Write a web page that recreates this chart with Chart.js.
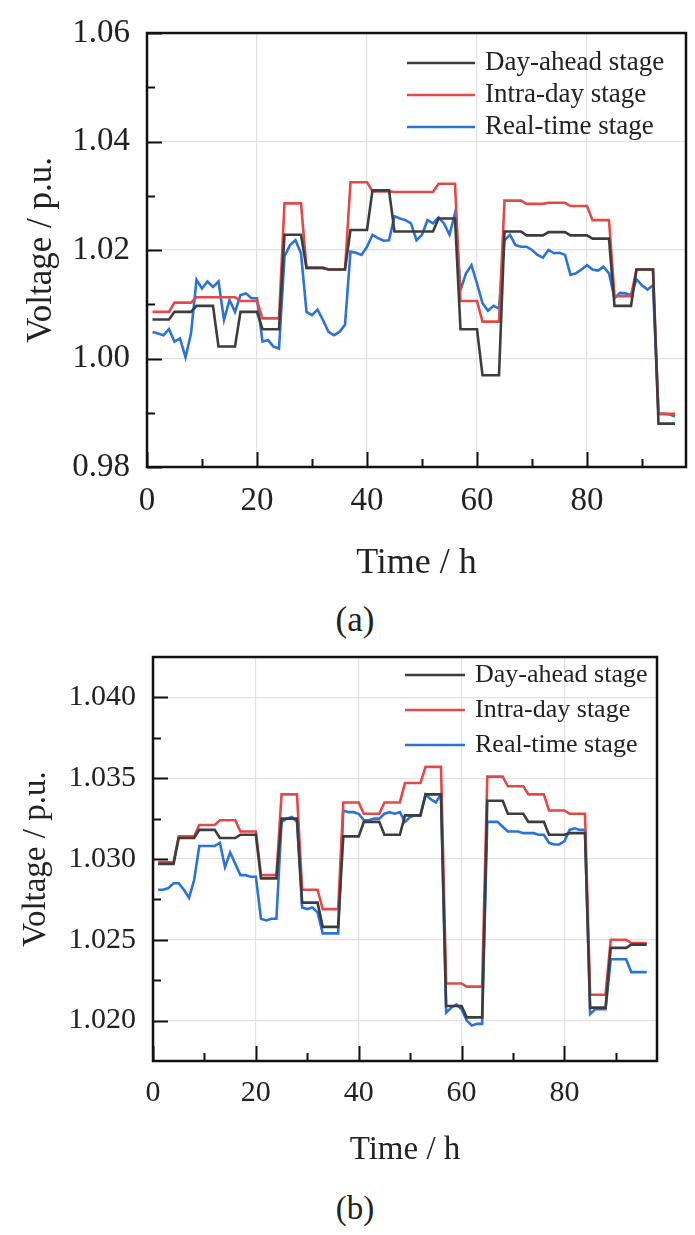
<!DOCTYPE html>
<html>
<head>
<meta charset="utf-8">
<title>Voltage profiles</title>
<script src="https://cdn.jsdelivr.net/npm/chart.js@4.4.1/dist/chart.umd.min.js"></script>
<style>
  body { margin: 0; background: #fff; }
  .wrap { position: relative; width: 695px; height: 1235px; font-family: "Liberation Serif", "Times New Roman", serif; }
  .wrap canvas { position: absolute; left: 0; }
  .caption { position: absolute; left: 0; width: 710px; text-align: center; color: #222; line-height: 40px; }
</style>
</head>
<body>
<div class="wrap">
  <canvas id="chartA" width="695" height="600" style="top:0"></canvas>
  <div class="caption" style="top:600px;font-size:35px">(a)</div>
  <canvas id="chartB" width="695" height="545" style="top:640px"></canvas>
  <div class="caption" style="top:1188px;font-size:33px">(b)</div>
</div>
<script>
// time steps (15 min resolution shown on an hour axis)
const hours = Array.from({ length: 96 }, (_, i) => i + 1);

const seriesNames = ["Day-ahead stage", "Intra-day stage", "Real-time stage"];
const seriesColors = ["#3d3d3d", "#e24a4a", "#2b73d6"];

const xTicks = [0, 20, 40, 60, 80];
const xMinorTicks = [10, 30, 50, 70, 90];

// (a)
const aYTicks = [0.98, 1.00, 1.02, 1.04, 1.06];
const aYMinorTicks = [0.99, 1.01, 1.03, 1.05];

const aDayAhead = [
  1.0072, 1.0072, 1.0072, 1.0072, 1.0086, 1.0086, 1.0086, 1.0086,
  1.0097, 1.0097, 1.0097, 1.0097, 1.0022, 1.0022, 1.0022, 1.0022,
  1.0086, 1.0086, 1.0086, 1.0086, 1.0054, 1.0054, 1.0054, 1.0054,
  1.0228, 1.0228, 1.0228, 1.0228, 1.0167, 1.0167, 1.0167, 1.0167,
  1.0164, 1.0164, 1.0164, 1.0164, 1.0237, 1.0237, 1.0237, 1.0237,
  1.0310, 1.0310, 1.0310, 1.0310, 1.0234, 1.0234, 1.0234, 1.0234,
  1.0234, 1.0234, 1.0234, 1.0234, 1.0258, 1.0258, 1.0258, 1.0258,
  1.0054, 1.0054, 1.0054, 1.0054, 0.9969, 0.9969, 0.9969, 0.9969,
  1.0234, 1.0234, 1.0234, 1.0234, 1.0227, 1.0227, 1.0227, 1.0227,
  1.0233, 1.0233, 1.0233, 1.0233, 1.0227, 1.0227, 1.0227, 1.0227,
  1.0221, 1.0221, 1.0221, 1.0221, 1.0097, 1.0097, 1.0097, 1.0097,
  1.0164, 1.0164, 1.0164, 1.0164, 0.9880, 0.9880, 0.9880, 0.9880
];
const aIntraDay = [
  1.0086, 1.0086, 1.0086, 1.0086, 1.0103, 1.0103, 1.0103, 1.0103,
  1.0113, 1.0113, 1.0113, 1.0113, 1.0113, 1.0113, 1.0113, 1.0113,
  1.0106, 1.0106, 1.0106, 1.0106, 1.0074, 1.0074, 1.0074, 1.0074,
  1.0286, 1.0286, 1.0286, 1.0286, 1.0167, 1.0167, 1.0167, 1.0167,
  1.0164, 1.0164, 1.0164, 1.0164, 1.0325, 1.0325, 1.0325, 1.0325,
  1.0308, 1.0308, 1.0308, 1.0308, 1.0307, 1.0307, 1.0307, 1.0307,
  1.0307, 1.0307, 1.0307, 1.0307, 1.0322, 1.0322, 1.0322, 1.0322,
  1.0106, 1.0106, 1.0106, 1.0106, 1.0068, 1.0068, 1.0068, 1.0068,
  1.0291, 1.0291, 1.0291, 1.0291, 1.0285, 1.0285, 1.0285, 1.0285,
  1.0287, 1.0287, 1.0287, 1.0287, 1.0281, 1.0281, 1.0281, 1.0281,
  1.0255, 1.0255, 1.0255, 1.0255, 1.0115, 1.0115, 1.0115, 1.0115,
  1.0164, 1.0164, 1.0164, 1.0164, 0.9898, 0.9898, 0.9898, 0.9898
];
const aRealTime = [
  1.0049, 1.0046, 1.0043, 1.0054, 1.0031, 1.0037, 1.0002, 1.0046,
  1.0145, 1.0129, 1.0142, 1.0132, 1.0142, 1.0071, 1.0108, 1.0086,
  1.0117, 1.0120, 1.0111, 1.0111, 1.0031, 1.0034, 1.0022, 1.0018,
  1.0188, 1.0209, 1.0218, 1.0194, 1.0086, 1.0080, 1.0090, 1.0071,
  1.0049, 1.0043, 1.0049, 1.0062, 1.0197, 1.0195, 1.0191, 1.0206,
  1.0228, 1.0222, 1.0217, 1.0218, 1.0262, 1.0258, 1.0255, 1.0249,
  1.0218, 1.0228, 1.0255, 1.0249, 1.0260, 1.0249, 1.0228, 1.0268,
  1.0126, 1.0157, 1.0172, 1.0138, 1.0102, 1.0088, 1.0097, 1.0092,
  1.0218, 1.0228, 1.0209, 1.0206, 1.0206, 1.0200, 1.0191, 1.0186,
  1.0200, 1.0194, 1.0195, 1.0191, 1.0154, 1.0157, 1.0164, 1.0172,
  1.0164, 1.0162, 1.0169, 1.0157, 1.0111, 1.0121, 1.0120, 1.0117,
  1.0146, 1.0135, 1.0127, 1.0135, 0.9898, 0.9898, 0.9897, 0.9893
];

// (b)
const bYTicks = [1.020, 1.025, 1.030, 1.035, 1.040];
const bYMinorTicks = [1.0225, 1.0275, 1.0325, 1.0375];

const bDayAhead = [
  1.0297, 1.0297, 1.0297, 1.0297, 1.0313, 1.0313, 1.0313, 1.0313,
  1.0318, 1.0318, 1.0318, 1.0318, 1.0313, 1.0313, 1.0313, 1.0313,
  1.0315, 1.0315, 1.0315, 1.0315, 1.0288, 1.0288, 1.0288, 1.0288,
  1.0325, 1.0325, 1.0325, 1.0325, 1.0273, 1.0273, 1.0273, 1.0273,
  1.0258, 1.0258, 1.0258, 1.0258, 1.0314, 1.0314, 1.0314, 1.0314,
  1.0323, 1.0323, 1.0323, 1.0323, 1.0315, 1.0315, 1.0315, 1.0315,
  1.0327, 1.0327, 1.0327, 1.0327, 1.0340, 1.0340, 1.0340, 1.0340,
  1.0209, 1.0209, 1.0209, 1.0209, 1.0202, 1.0202, 1.0202, 1.0202,
  1.0336, 1.0336, 1.0336, 1.0336, 1.0328, 1.0328, 1.0328, 1.0328,
  1.0323, 1.0323, 1.0323, 1.0323, 1.0315, 1.0315, 1.0315, 1.0315,
  1.0316, 1.0316, 1.0316, 1.0316, 1.0208, 1.0208, 1.0208, 1.0208,
  1.0245, 1.0245, 1.0245, 1.0245, 1.0247, 1.0247, 1.0247, 1.0247
];
const bIntraDay = [
  1.0298, 1.0298, 1.0298, 1.0298, 1.0314, 1.0314, 1.0314, 1.0314,
  1.0321, 1.0321, 1.0321, 1.0321, 1.0324, 1.0324, 1.0324, 1.0324,
  1.0317, 1.0317, 1.0317, 1.0317, 1.0290, 1.0290, 1.0290, 1.0290,
  1.0340, 1.0340, 1.0340, 1.0340, 1.0281, 1.0281, 1.0281, 1.0281,
  1.0269, 1.0269, 1.0269, 1.0269, 1.0335, 1.0335, 1.0335, 1.0335,
  1.0328, 1.0328, 1.0328, 1.0328, 1.0335, 1.0335, 1.0335, 1.0335,
  1.0347, 1.0347, 1.0347, 1.0347, 1.0357, 1.0357, 1.0357, 1.0357,
  1.0223, 1.0223, 1.0223, 1.0223, 1.0221, 1.0221, 1.0221, 1.0221,
  1.0351, 1.0351, 1.0351, 1.0351, 1.0345, 1.0345, 1.0345, 1.0345,
  1.0340, 1.0340, 1.0340, 1.0340, 1.0330, 1.0330, 1.0330, 1.0330,
  1.0328, 1.0328, 1.0328, 1.0328, 1.0216, 1.0216, 1.0216, 1.0216,
  1.0250, 1.0250, 1.0250, 1.0250, 1.0248, 1.0248, 1.0248, 1.0248
];
const bRealTime = [
  1.0281, 1.0281, 1.0282, 1.0285, 1.0285, 1.0281, 1.0276, 1.0287,
  1.0308, 1.0308, 1.0308, 1.0308, 1.0310, 1.0295, 1.0304, 1.0297,
  1.0290, 1.0290, 1.0289, 1.0289, 1.0263, 1.0262, 1.0263, 1.0263,
  1.0323, 1.0325, 1.0326, 1.0323, 1.0270, 1.0269, 1.0270, 1.0267,
  1.0254, 1.0254, 1.0254, 1.0254, 1.0330, 1.0329, 1.0329, 1.0328,
  1.0324, 1.0324, 1.0325, 1.0325, 1.0328, 1.0329, 1.0328, 1.0329,
  1.0323, 1.0326, 1.0327, 1.0327, 1.0340, 1.0337, 1.0335, 1.0340,
  1.0205, 1.0208, 1.0210, 1.0207, 1.0200, 1.0197, 1.0198, 1.0198,
  1.0323, 1.0323, 1.0323, 1.0320, 1.0317, 1.0317, 1.0317, 1.0316,
  1.0316, 1.0316, 1.0315, 1.0315, 1.0310, 1.0309, 1.0309, 1.0311,
  1.0318, 1.0319, 1.0318, 1.0318, 1.0204, 1.0207, 1.0207, 1.0207,
  1.0238, 1.0238, 1.0238, 1.0238, 1.0230, 1.0230, 1.0230, 1.0230
];

const fontFamily = '"Liberation Serif", "Times New Roman", serif';

// frame, inward tick marks and the legend inside the plot
const framePlugin = {
  id: "frame",
  afterDraw(chart, args, opts) {
    const ctx = chart.ctx;
    const area = chart.chartArea;
    const xs = chart.scales.x;
    const ys = chart.scales.y;

    ctx.save();
    ctx.strokeStyle = "#111";
    ctx.lineWidth = 2;
    ctx.beginPath();
    xTicks.forEach(function (v) {
      let px = Math.round(xs.getPixelForValue(v)) + 0.5;
      ctx.moveTo(px, area.bottom);
      ctx.lineTo(px, area.bottom - 15);
    });
    xMinorTicks.forEach(function (v) {
      let px = Math.round(xs.getPixelForValue(v)) + 0.5;
      ctx.moveTo(px, area.bottom);
      ctx.lineTo(px, area.bottom - 8);
    });
    opts.yMajor.forEach(function (v) {
      let py = Math.round(ys.getPixelForValue(v)) + 0.5;
      ctx.moveTo(area.left, py);
      ctx.lineTo(area.left + 15, py);
    });
    opts.yMinor.forEach(function (v) {
      let py = Math.round(ys.getPixelForValue(v)) + 0.5;
      ctx.moveTo(area.left, py);
      ctx.lineTo(area.left + 8, py);
    });
    ctx.stroke();

    ctx.lineWidth = 2.5;
    ctx.strokeRect(area.left, area.top, area.right - area.left, area.bottom - area.top);

    // legend
    ctx.font = opts.legendSize + "px " + fontFamily;
    ctx.textBaseline = "middle";
    ctx.textAlign = "left";
    chart.data.datasets.forEach(function (ds, i) {
      let y = area.top + opts.legendRows[i];
      ctx.strokeStyle = ds.borderColor;
      ctx.lineWidth = 2.5;
      ctx.beginPath();
      ctx.moveTo(area.right - opts.lineStart, y);
      ctx.lineTo(area.right - opts.lineEnd, y);
      ctx.stroke();
      ctx.fillStyle = "#222";
      ctx.fillText(ds.label, area.right - opts.textStart, y);
    });
    ctx.restore();
  }
};

function buildDatasets(values) {
  return values.map(function (serie, i) {
    return {
      label: seriesNames[i],
      data: hours.map(function (h, j) { return { x: h, y: serie[j] }; }),
      borderColor: seriesColors[i],
      backgroundColor: seriesColors[i],
      borderWidth: 2.6,
      pointRadius: 0,
      tension: 0,
      fill: false
    };
  });
}

function makeChart(canvasId, cfg) {
  const config = {
    type: "line",
    data: { datasets: buildDatasets(cfg.values) },
    options: {
      responsive: false,
      animation: false,
      layout: { padding: cfg.padding },
      plugins: {
        legend: { display: false },
        tooltip: { enabled: false },
        frame: cfg.frame
      },
      scales: {
        x: {
          type: "linear",
          min: 0,
          max: 98,
          afterBuildTicks: function (axis) {
            axis.ticks = xTicks.map(function (v) { return { value: v }; });
          },
          afterFit: function (axis) {
            axis.height = cfg.xHeight;
            axis.paddingLeft = 0;
            axis.paddingRight = 0;
          },
          ticks: {
            autoSkip: false,
            maxRotation: 0,
            padding: cfg.xTickPad,
            color: "#222",
            font: { family: fontFamily, size: cfg.tickSize }
          },
          grid: { color: "#e2e2e2", lineWidth: 1.2, drawTicks: false },
          border: { display: false },
          title: {
            display: true,
            text: "Time / h",
            color: "#222",
            font: { family: fontFamily, size: cfg.titleSize },
            padding: { top: 0, bottom: cfg.xTitlePad }
          }
        },
        y: {
          type: "linear",
          min: cfg.yMin,
          max: cfg.yMax,
          afterBuildTicks: function (axis) {
            axis.ticks = cfg.yTicks.map(function (v) { return { value: v }; });
          },
          afterFit: function (axis) {
            axis.width = cfg.yWidth;
            axis.paddingTop = 0;
            axis.paddingBottom = 0;
          },
          ticks: {
            padding: cfg.yTickPad,
            color: "#222",
            font: { family: fontFamily, size: cfg.tickSize },
            callback: function (v) { return Number(v).toFixed(cfg.decimals); }
          },
          grid: { color: "#e2e2e2", lineWidth: 1.2, drawTicks: false },
          border: { display: false },
          title: {
            display: true,
            text: "Voltage / p.u.",
            color: "#222",
            font: { family: fontFamily, size: cfg.yTitleSize },
            padding: { top: cfg.yTitlePad, bottom: 0 }
          }
        }
      }
    },
    plugins: [framePlugin]
  };
  return new Chart(document.getElementById(canvasId), config);
}

document.addEventListener("DOMContentLoaded", function () {
  makeChart("chartA", {
    values: [aDayAhead, aIntraDay, aRealTime],
    padding: { top: 33, right: 9, left: 0, bottom: 0 },
    yMin: 0.98,
    yMax: 1.06,
    yTicks: aYTicks,
    decimals: 2,
    yWidth: 147,
    xHeight: 133,
    tickSize: 33,
    titleSize: 36,
    yTitleSize: 35,
    xTickPad: 15,
    yTickPad: 17,
    xTitlePad: 15,
    yTitlePad: 21,
    frame: {
      yMajor: aYTicks,
      yMinor: aYMinorTicks,
      legendSize: 27,
      legendRows: [30, 62, 94],
      lineStart: 279,
      lineEnd: 211,
      textStart: 201
    }
  });

  makeChart("chartB", {
    values: [bDayAhead, bIntraDay, bRealTime],
    padding: { top: 17, right: 38, left: 0, bottom: 0 },
    yMin: 1.0175,
    yMax: 1.0425,
    yTicks: bYTicks,
    decimals: 3,
    yWidth: 153,
    xHeight: 124,
    tickSize: 30,
    titleSize: 33,
    yTitleSize: 33,
    xTickPad: 14,
    yTickPad: 17,
    xTitlePad: 15,
    yTitlePad: 17,
    frame: {
      yMajor: bYTicks,
      yMinor: bYMinorTicks,
      legendSize: 26,
      legendRows: [18, 53, 88],
      lineStart: 252,
      lineEnd: 192,
      textStart: 182
    }
  });
});
</script>
</body>
</html>
